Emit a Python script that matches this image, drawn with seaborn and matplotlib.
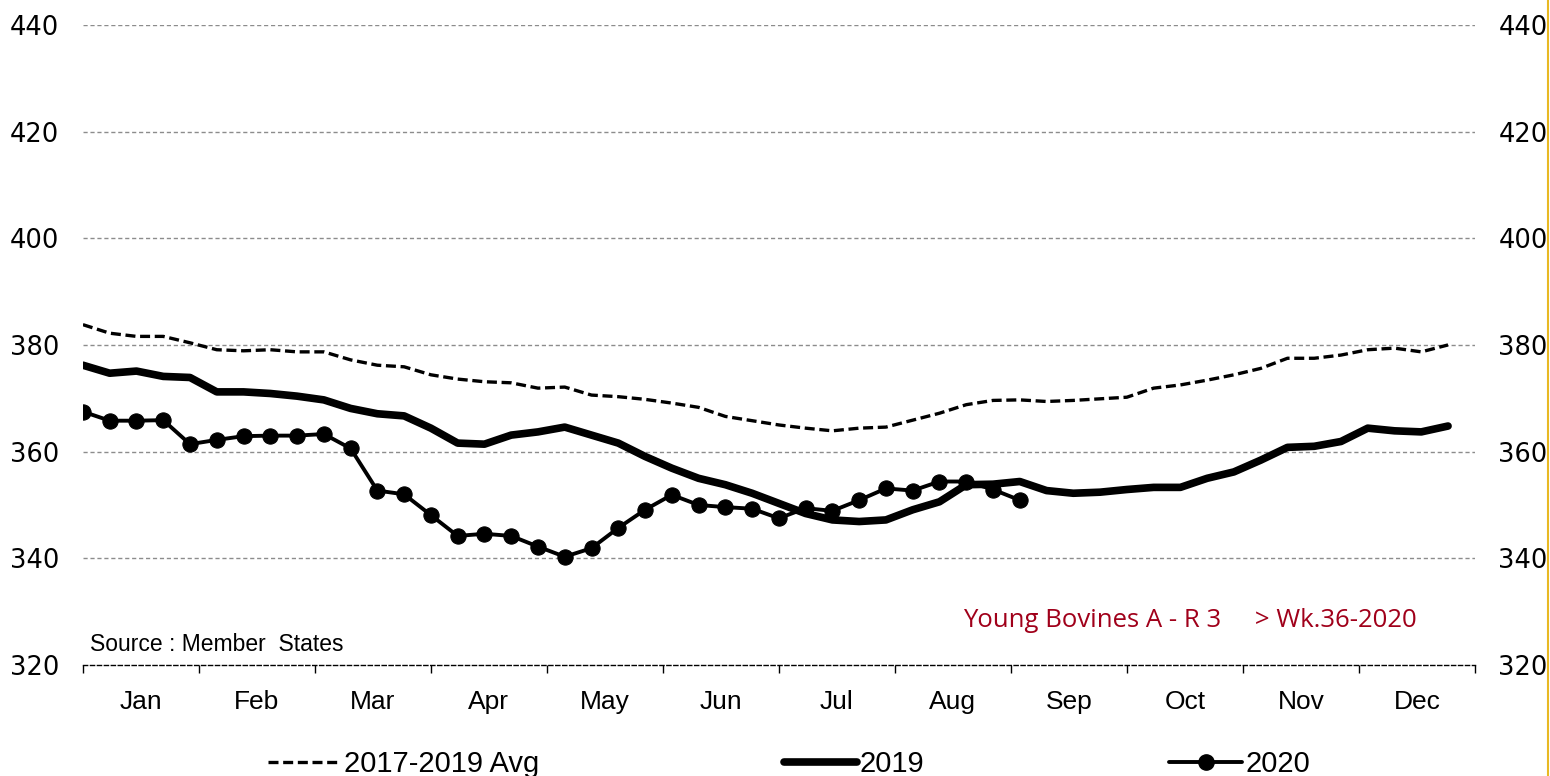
import numpy as np
import pandas as pd
import seaborn as sns
import matplotlib.pyplot as plt
from matplotlib.lines import Line2D

# Young Bovines A - R 3, weekly prices

weeks = list(range(1, 53))
avg_2017_2019 = [383.8, 382.2, 381.6, 381.6, 380.4, 379.1, 378.9, 379.1, 378.7, 378.7,
                 377.2, 376.2, 375.9, 374.4, 373.6, 373.1, 372.9, 371.9, 372.1, 370.6,
                 370.3, 369.8, 369.1, 368.3, 366.6, 365.8, 365.0, 364.4, 363.9, 364.4,
                 364.6, 365.9, 367.2, 368.8, 369.6, 369.7, 369.4, 369.6, 369.9, 370.2,
                 371.9, 372.5, 373.4, 374.4, 375.6, 377.5, 377.5, 378.1, 379.1, 379.4,
                 378.7, 380.0]
y2019 = [376.2, 374.7, 375.1, 374.1, 373.9, 371.2, 371.2, 370.9, 370.4, 369.7,
         368.1, 367.1, 366.7, 364.4, 361.6, 361.4, 363.1, 363.7, 364.6, 363.1,
         361.6, 359.1, 356.9, 355.0, 353.8, 352.2, 350.3, 348.4, 347.2, 346.9,
         347.2, 349.1, 350.6, 353.8, 353.9, 354.4, 352.7, 352.2, 352.4, 352.9,
         353.3, 353.3, 355.0, 356.2, 358.4, 360.8, 361.0, 361.9, 364.4, 363.9,
         363.7, 364.8]
y2020 = [367.5, 365.8, 365.8, 365.9, 361.4, 362.2, 362.9, 363.0, 363.0, 363.3,
         360.6, 352.7, 352.0, 348.1, 344.2, 344.6, 344.2, 342.2, 340.3, 341.9,
         345.7, 349.1, 351.9, 350.0, 349.6, 349.3, 347.5, 349.4, 348.9, 350.9,
         353.1, 352.7, 354.4, 354.4, 352.9, 350.9]
months = ['Jan', 'Feb', 'Mar', 'Apr', 'May', 'Jun', 'Jul', 'Aug', 'Sep', 'Oct', 'Nov', 'Dec']
y_ticks = [320, 340, 360, 380, 400, 420, 440]

df_avg = pd.DataFrame({'week': weeks, 'price': avg_2017_2019})
df_2019 = pd.DataFrame({'week': weeks, 'price': y2019})
df_2020 = pd.DataFrame({'week': weeks[:len(y2020)], 'price': y2020})

sns.set_style('white')
plt.rcParams['font.family'] = ['Liberation Sans', 'DejaVu Sans']
plt.rcParams['text.color'] = 'black'
plt.rcParams['xtick.color'] = 'black'
plt.rcParams['ytick.color'] = 'black'
plt.rcParams['xtick.labelcolor'] = 'black'
plt.rcParams['ytick.labelcolor'] = 'black'

fig = plt.figure(figsize=(15.5, 7.76), dpi=100)
ax = fig.add_axes([0.0535, 0.143, 0.898, 0.825])

dash = (0, (3, 1.4))
sns.lineplot(data=df_avg, x='week', y='price', ax=ax, color='black', lw=2.4,
             linestyle=dash, zorder=3)
sns.lineplot(data=df_2019, x='week', y='price', ax=ax, color='black', lw=5.5, zorder=4)
sns.lineplot(data=df_2020, x='week', y='price', ax=ax, color='black', lw=2.8,
             marker='o', markersize=11, markeredgecolor='black', zorder=5)

ax.set_xlim(1, 53)
ax.set_ylim(320, 440)
ax.set_xlabel('')
ax.set_ylabel('')

# grid
for v in y_ticks[1:]:
    ax.axhline(v, color='#8c8c8c', lw=1, linestyle=(0, (3, 2)), zorder=1)

for s in ['top', 'left', 'right']:
    ax.spines[s].set_visible(False)
ax.spines['bottom'].set_linestyle((0, (3, 2)))
ax.spines['bottom'].set_color('black')
ax.spines['bottom'].set_linewidth(1)

# month ticks
bounds = np.linspace(1, 53, 13)
centers = (bounds[:-1] + bounds[1:]) / 2
ax.set_xticks(bounds)
ax.set_xticklabels([''] * 13)
ax.set_xticks(centers, minor=True)
ax.set_xticklabels(months, minor=True, fontsize=19)
ax.tick_params(axis='x', which='major', direction='out', length=6, width=1, color='black', bottom=True)
ax.tick_params(axis='x', which='minor', length=0, pad=18)

ax.set_yticks(y_ticks)
ax.set_yticklabels(y_ticks, fontsize=18.5, family='DejaVu Sans')
ax.tick_params(axis='y', length=0, pad=17)

ax2 = ax.twinx()
ax2.set_ylim(320, 440)
ax2.set_yticks(y_ticks)
ax2.set_yticklabels(y_ticks, fontsize=18.5, family='DejaVu Sans')
ax2.tick_params(axis='y', length=0, pad=17)
for s in ax2.spines.values():
    s.set_visible(False)

ax.text(0.005, 0.014, 'Source : Member  States', transform=ax.transAxes, fontsize=16.5,
        ha='left', va='bottom')
ax.text(0.632, 0.070, 'Young Bovines A - R 3     > Wk.36-2020', transform=ax.transAxes,
        fontsize=18.5, color='#a0001a', ha='left', va='center', family='Open Sans')

handles = [
    Line2D([], [], color='black', lw=2.4, linestyle=dash),
    Line2D([], [], color='black', lw=5.5),
    Line2D([], [], color='black', lw=2.8, marker='o', markersize=11),
]
fig.legend(handles, ['2017-2019 Avg', '2019', '2020'], loc='center', ncol=3,
           bbox_to_anchor=(0.509, 0.015), frameon=False, fontsize=21,
           handlelength=2.5, handletextpad=0.1, columnspacing=8.4)

fig.add_artist(Line2D([0.9985, 0.9985], [0, 1], transform=fig.transFigure, color='#e8b923', lw=1.5))

fig.savefig('out.png', dpi=100)
